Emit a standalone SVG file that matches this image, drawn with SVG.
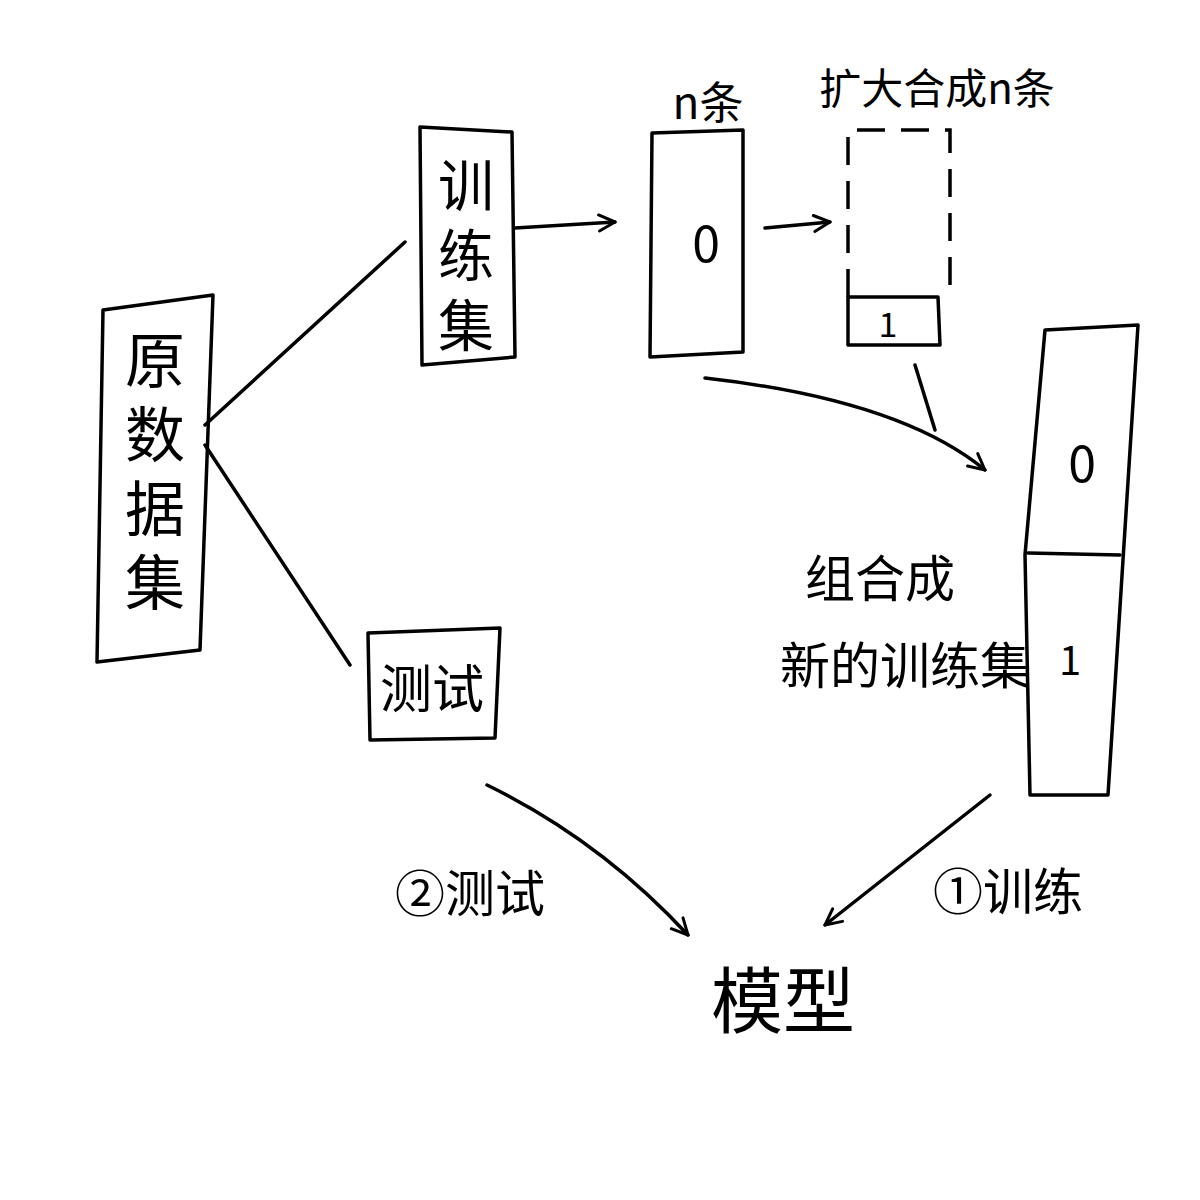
<svg xmlns="http://www.w3.org/2000/svg" width="1200" height="1200" viewBox="0 0 1200 1200">
<defs>
<style>
.s{fill:none;stroke:#000;stroke-width:3.5;stroke-linecap:round;stroke-linejoin:round}
.d{fill:none;stroke:#000;stroke-width:3.5;stroke-dasharray:28 16}
.t{font-family:"Noto Sans CJK SC","Noto Sans CJK JP",sans-serif;fill:#000;text-anchor:middle;dominant-baseline:central}
.v{font-family:"Noto Sans CJK SC","Noto Sans CJK JP",sans-serif;fill:#000;writing-mode:tb;text-anchor:start}
</style>
<marker id="ah" viewBox="0 0 20 20" refX="18" refY="10" markerWidth="20" markerHeight="20" markerUnits="userSpaceOnUse" orient="auto">
<path d="M2,2 L18,10 L2,18" fill="none" stroke="#000" stroke-width="3" stroke-linecap="round" stroke-linejoin="round"/>
</marker>
</defs>
<rect width="1200" height="1200" fill="#fff"/>
<g id="connectors">
<path class="s" d="M205,425 L405,242"/>
<path class="s" d="M205,445 L350,665"/>
<path class="s" d="M515,228 L615,222" marker-end="url(#ah)"/>
<path class="s" d="M765,228 L830,222" marker-end="url(#ah)"/>
<path class="s" d="M705,378 Q900,400 985,470" marker-end="url(#ah)"/>
<path class="s" d="M915,365 L935,430"/>
<path class="s" d="M990,795 L825,925" marker-end="url(#ah)"/>
<path class="s" d="M487,785 Q600,840 688,935" marker-end="url(#ah)"/>
</g>
<g id="node-raw">
<path class="s" d="M103,310 L213,295 L200,650 L97,662 Z"/>
<text class="v" x="155" y="330" font-size="60" letter-spacing="14">原数据集</text>
</g>
<g id="node-train">
<path class="s" d="M420,127 L512,132 L515,357 L422,365 Z"/>
<text class="v" x="466" y="157" font-size="56" letter-spacing="14">训练集</text>
</g>
<g id="node-test">
<path class="s" d="M368,633 L500,628 L495,738 L370,740 Z"/>
<text class="t" x="432" y="685" font-size="52">测试</text>
</g>
<g id="node-n">
<path class="s" d="M652,133 L743,130 L743,352 L650,357 Z"/>
<text class="t" x="706" y="240" font-size="50">0</text>
<text class="t" x="708" y="100" font-size="44">n条</text>
</g>
<g id="node-expand">
<path class="d" d="M848,297 L848,130 L950,130 L950,297"/>
<path class="s" d="M848,297 L938,297 L940,345 L848,345 Z"/>
<text class="t" x="888" y="322" font-size="34">1</text>
<text class="t" x="937" y="85" font-size="42">扩大合成n条</text>
</g>
<g id="node-new">
<path class="s" d="M1045,330 L1138,325 L1108,795 L1030,795 L1025,555 L1045,330"/>
<path class="s" d="M1028,553 L1120,555"/>
<text class="t" x="1082" y="460" font-size="50">0</text>
<text class="t" x="1070" y="658" font-size="40">1</text>
<text class="t" x="880" y="575" font-size="50">组合成</text>
<text class="t" x="905" y="662" font-size="50">新的训练集</text>
</g>
<g id="labels">
<text class="t" x="470" y="890" font-size="50">②测试</text>
<text class="t" x="1008" y="888" font-size="50">①训练</text>
</g>
<g id="node-model">
<text class="t" x="783" y="995" font-size="72">模型</text>
</g>
</svg>
